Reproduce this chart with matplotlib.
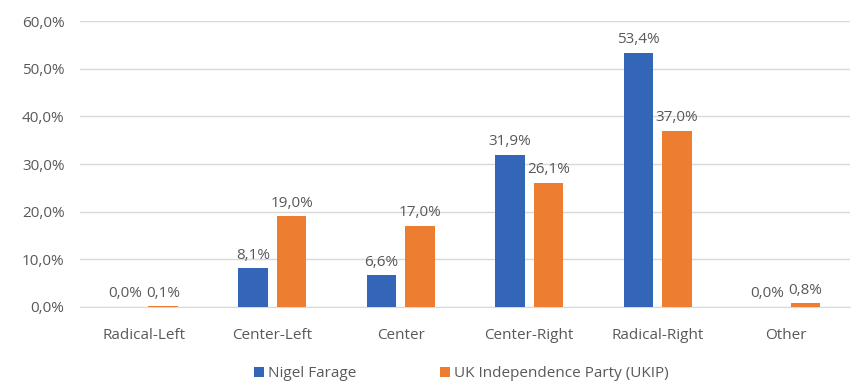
import matplotlib
matplotlib.use("Agg")
import matplotlib.pyplot as plt
import numpy as np
from matplotlib.ticker import FuncFormatter

categories = ["Radical-Left", "Center-Left", "Center", "Center-Right", "Radical-Right", "Other"]
farage = [0.0, 8.1, 6.6, 31.9, 53.4, 0.0]
ukip = [0.1, 19.0, 17.0, 26.1, 37.0, 0.8]
series_names = ["Nigel Farage", "UK Independence Party (UKIP)"]
colors = ["#3366B7", "#ED7D31"]

plt.rcParams['font.family'] = ['Open Sans', 'DejaVu Sans']
text_color = "#595959"
fs = 11

fig = plt.figure(figsize=(8.58, 3.91), dpi=100)
ax = fig.add_axes([0.093, 0.215, 0.898, 0.731])

x = np.arange(len(categories))
w = 0.23
off = 0.15
b1 = ax.bar(x - off, farage, w, color=colors[0], label=series_names[0], zorder=3)
b2 = ax.bar(x + off, ukip, w, color=colors[1], label=series_names[1], zorder=3)

def fmt(v):
    return f"{v:.1f}%".replace(".", ",")

for bars, vals in ((b1, farage), (b2, ukip)):
    for rect, v in zip(bars, vals):
        ax.annotate(fmt(v), (rect.get_x() + rect.get_width() / 2, v),
                    xytext=(0, 4), textcoords="offset points",
                    ha="center", va="bottom", fontsize=fs, color=text_color)

ax.set_ylim(0, 60)
ax.set_xlim(-0.5, len(categories) - 0.5)
ax.set_yticks(np.arange(0, 61, 10))
ax.yaxis.set_major_formatter(FuncFormatter(lambda v, p: f"{v:.1f}%".replace(".", ",")))
ax.set_xticks(x)
ax.set_xticklabels(categories)
ax.tick_params(axis="both", length=0, labelsize=fs, colors=text_color)
ax.tick_params(axis="y", pad=11)
ax.tick_params(axis="x", pad=15)
ax.grid(axis="y", color="#D9D9D9", linewidth=1, zorder=0)
for s in ["top", "right", "left"]:
    ax.spines[s].set_visible(False)
ax.spines["bottom"].set_color("#D9D9D9")

leg = fig.legend(handles=[b1, b2], labels=series_names, loc="lower center",
                 bbox_to_anchor=(0.538, -0.01), ncol=2, frameon=False, fontsize=fs,
                 handlelength=0.6, handleheight=0.6, columnspacing=5.5, handletextpad=0.3)
for t in leg.get_texts():
    t.set_color(text_color)

fig.savefig("out.png", dpi=100)
